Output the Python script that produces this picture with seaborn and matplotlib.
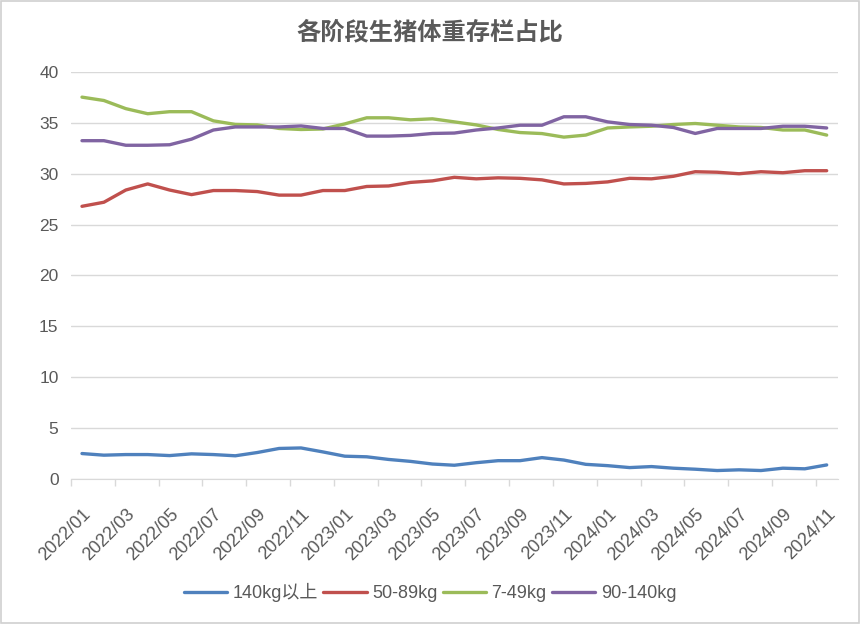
import numpy as np
import pandas as pd
import matplotlib
matplotlib.use("Agg")
import matplotlib.pyplot as plt
from matplotlib.patches import Rectangle
from matplotlib.ticker import FixedLocator, NullFormatter
import seaborn as sns

# monthly categories 2022/01 .. 2024/11
months = [f"{y}/{m:02d}" for y in (2022, 2023, 2024) for m in range(1, 13)][:35]

w_140_plus = [2.5, 2.34, 2.4, 2.4, 2.3, 2.47, 2.4, 2.28, 2.6, 3.0,
              3.05, 2.66, 2.24, 2.18, 1.92, 1.73, 1.47, 1.35, 1.6, 1.8,
              1.8, 2.1, 1.86, 1.44, 1.31, 1.12, 1.22, 1.06, 0.96, 0.83,
              0.9, 0.83, 1.06, 1.0, 1.38]
w_50_89 = [26.8, 27.2, 28.4, 29.0, 28.4, 27.95, 28.35, 28.35, 28.25, 27.9,
           27.9, 28.35, 28.35, 28.75, 28.8, 29.15, 29.3, 29.65, 29.5, 29.6,
           29.55, 29.4, 29.0, 29.05, 29.2, 29.55, 29.5, 29.75, 30.2, 30.15,
           30.0, 30.2, 30.1, 30.3, 30.3]
w_7_49 = [37.53, 37.2, 36.4, 35.9, 36.1, 36.1, 35.2, 34.85, 34.8, 34.45,
          34.35, 34.4, 34.9, 35.5, 35.5, 35.3, 35.4, 35.1, 34.8, 34.35,
          34.05, 33.95, 33.6, 33.8, 34.5, 34.6, 34.67, 34.84, 34.94, 34.77,
          34.6, 34.55, 34.3, 34.3, 33.8]
w_90_140 = [33.25, 33.25, 32.8, 32.8, 32.85, 33.4, 34.3, 34.6, 34.6, 34.6,
            34.7, 34.45, 34.45, 33.7, 33.7, 33.77, 33.96, 34.0, 34.3, 34.5,
            34.77, 34.77, 35.6, 35.6, 35.1, 34.84, 34.77, 34.55, 33.96, 34.45,
            34.45, 34.45, 34.67, 34.67, 34.5]

series_names = ["140kg以上", "50-89kg", "7-49kg", "90-140kg"]
colors = ["#4f81bd", "#c0504d", "#9bbb59", "#8064a2"]

idx = np.arange(len(months))
df = pd.concat([
    pd.DataFrame({"idx": idx, "value": vals, "series": name})
    for name, vals in zip(series_names, [w_140_plus, w_50_89, w_7_49, w_90_140])
])

sns.set_style("white")
plt.rcParams["font.family"] = ["Liberation Sans", "Noto Sans CJK SC", "DejaVu Sans"]

fig = plt.figure(figsize=(8.6, 6.24), dpi=100)
ax = fig.add_axes([0.0826, 0.2324, 0.974 - 0.0826, 0.8846 - 0.2324])

sns.lineplot(data=df, x="idx", y="value", hue="series", hue_order=series_names,
             palette=colors, linewidth=2.4, ax=ax, legend=True)

ax.set_xlim(-0.5, len(months) - 0.5)
ax.set_ylim(0, 40)
ax.set_yticks(np.arange(0, 41, 5))
ax.grid(axis="y", color="#d9d9d9", linewidth=1)
ax.set_axisbelow(True)

# labels every 2 months, tick marks at category boundaries
ax.set_xticks(idx[::2])
ax.set_xticklabels(months[::2], rotation=45, ha="right", va="top",
                   rotation_mode="anchor")
ax.xaxis.set_minor_locator(FixedLocator(np.arange(-0.5, len(months) - 1, 2)))
ax.xaxis.set_minor_formatter(NullFormatter())
ax.tick_params(axis="x", which="major", length=0, pad=19, labelsize=13,
               labelcolor="#595959")
ax.tick_params(axis="x", which="minor", length=5, width=1, color="#d9d9d9",
               direction="out", bottom=True)
ax.tick_params(axis="y", length=0, pad=9, labelsize=12.5, labelcolor="#595959")

for side in ["left", "right", "top"]:
    ax.spines[side].set_visible(False)
ax.spines["bottom"].set_color("#d9d9d9")
ax.set_xlabel("")
ax.set_ylabel("")

fig.suptitle("各阶段生猪体重存栏占比", x=0.5, y=0.968, fontsize=17.5,
             color="#5a5a5a", fontweight="bold",
             family=["Noto Sans CJK SC", "DejaVu Sans"])

handles, labels = ax.get_legend_handles_labels()
ax.legend_.remove()
fig.legend(handles, labels, loc="center", bbox_to_anchor=(0.5, 0.05), ncol=4,
           frameon=False, fontsize=13, handlelength=2.4, handletextpad=0.3,
           columnspacing=0.3, labelcolor="#595959")

fig.patches.append(Rectangle((0.001, 0.001), 0.998, 0.997, transform=fig.transFigure,
                             fill=False, edgecolor="#d0d0d0", linewidth=1.2))

fig.savefig("out.png", dpi=100)
